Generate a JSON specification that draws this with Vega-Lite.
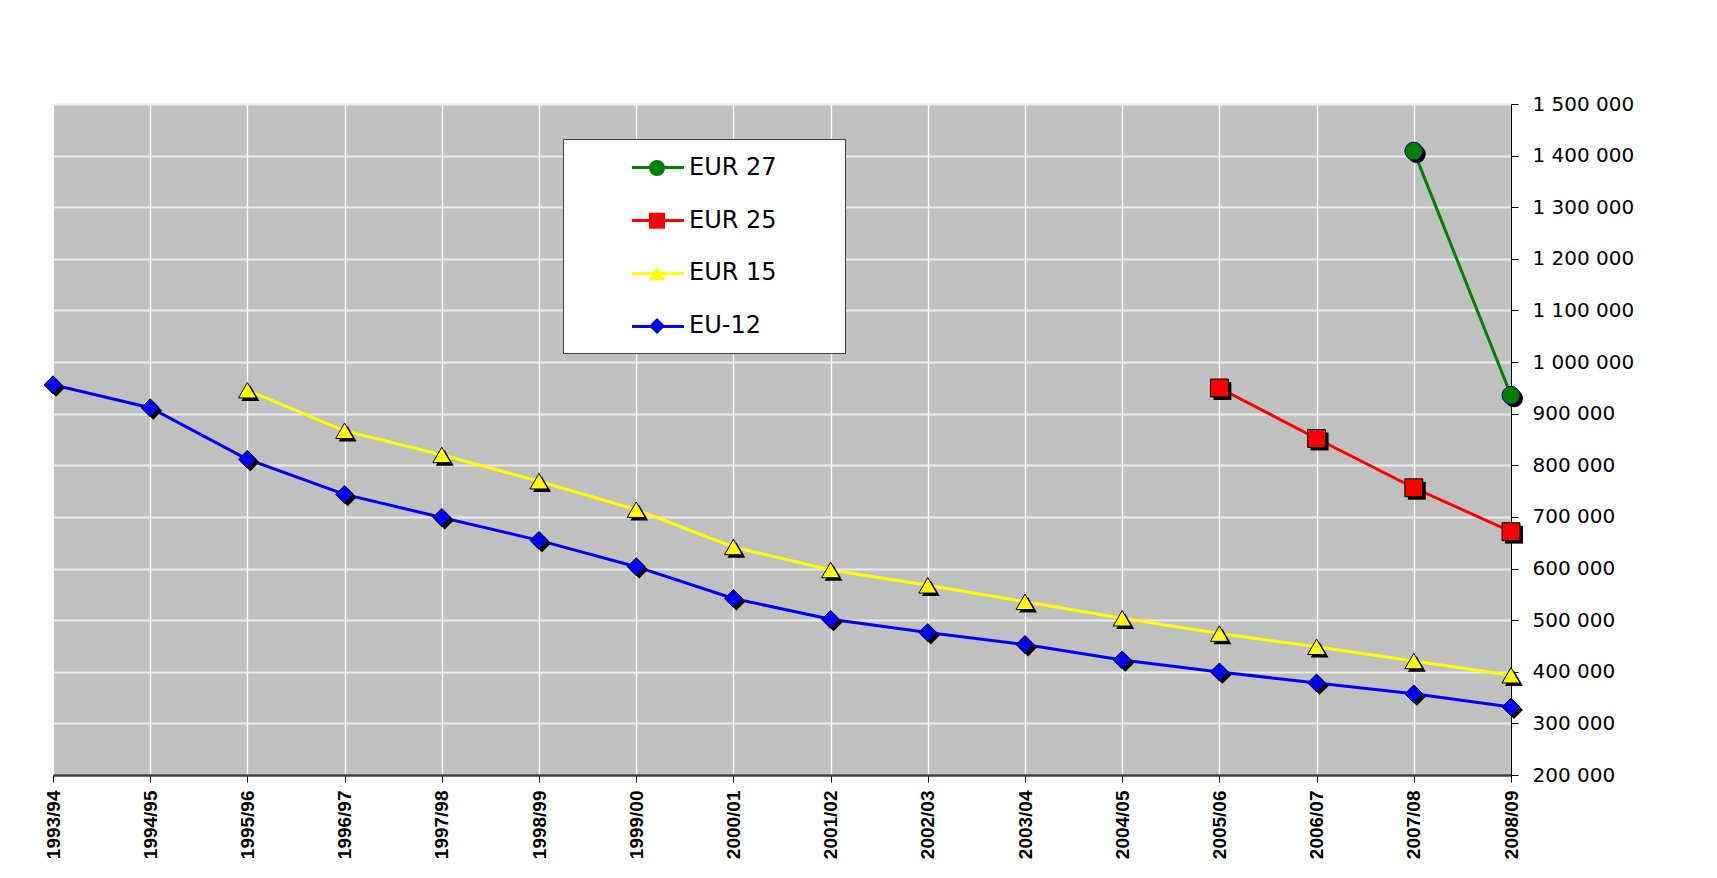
{
  "$schema": "https://vega.github.io/schema/vega-lite/v6.json",
  "width": 1458,
  "height": 671,
  "autosize": {"type": "none"},
  "padding": {"left": 53, "top": 104, "right": 206, "bottom": 103},
  "background": "white",
  "config": {"view": {"fill": "#C0C0C0", "stroke": "#808080", "strokeWidth": 1}},
  "data": {"values": [
    {"year": "1993/94", "series": "EU-12", "value": 956000},
    {"year": "1994/95", "series": "EU-12", "value": 911500},
    {"year": "1995/96", "series": "EU-12", "value": 811700},
    {"year": "1996/97", "series": "EU-12", "value": 743700},
    {"year": "1997/98", "series": "EU-12", "value": 699000},
    {"year": "1998/99", "series": "EU-12", "value": 654500},
    {"year": "1999/00", "series": "EU-12", "value": 603600},
    {"year": "2000/01", "series": "EU-12", "value": 542000},
    {"year": "2001/02", "series": "EU-12", "value": 501600},
    {"year": "2002/03", "series": "EU-12", "value": 476100},
    {"year": "2003/04", "series": "EU-12", "value": 452800},
    {"year": "2004/05", "series": "EU-12", "value": 423000},
    {"year": "2005/06", "series": "EU-12", "value": 399700},
    {"year": "2006/07", "series": "EU-12", "value": 378400},
    {"year": "2007/08", "series": "EU-12", "value": 357200},
    {"year": "2008/09", "series": "EU-12", "value": 331700},
    {"year": "1995/96", "series": "EUR 15", "value": 945500},
    {"year": "1996/97", "series": "EUR 15", "value": 866900},
    {"year": "1997/98", "series": "EUR 15", "value": 820200},
    {"year": "1998/99", "series": "EUR 15", "value": 769200},
    {"year": "1999/00", "series": "EUR 15", "value": 714000},
    {"year": "2000/01", "series": "EUR 15", "value": 641800},
    {"year": "2001/02", "series": "EUR 15", "value": 597200},
    {"year": "2002/03", "series": "EUR 15", "value": 567500},
    {"year": "2003/04", "series": "EUR 15", "value": 535600},
    {"year": "2004/05", "series": "EUR 15", "value": 503700},
    {"year": "2005/06", "series": "EUR 15", "value": 474000},
    {"year": "2006/07", "series": "EUR 15", "value": 448500},
    {"year": "2007/08", "series": "EUR 15", "value": 420900},
    {"year": "2008/09", "series": "EUR 15", "value": 393300},
    {"year": "2005/06", "series": "EUR 25", "value": 949800},
    {"year": "2006/07", "series": "EUR 25", "value": 852000},
    {"year": "2007/08", "series": "EUR 25", "value": 756500},
    {"year": "2008/09", "series": "EUR 25", "value": 671400},
    {"year": "2007/08", "series": "EUR 27", "value": 1408800},
    {"year": "2008/09", "series": "EUR 27", "value": 935600}
  ]},
  "encoding": {
    "x": {
      "field": "year", "type": "ordinal",
      "scale": {"type": "point", "padding": 0},
      "axis": {
        "title": null, "labelAngle": -90, "labelFont": "Liberation Sans", "labelFontWeight": "bold",
        "labelFontSize": 19, "labelColor": "black", "labelPadding": 8,
        "tickSize": 7, "tickColor": "black", "tickWidth": 1,
        "domainColor": "#404040", "domainWidth": 2.5,
        "grid": true, "gridColor": "white", "gridWidth": 1.3
      }
    },
    "y": {
      "field": "value", "type": "quantitative",
      "scale": {"domain": [200000, 1500000], "nice": false, "zero": false},
      "axis": {
        "title": null, "orient": "right", "values": [200000,300000,400000,500000,600000,700000,800000,900000,1000000,1100000,1200000,1300000,1400000,1500000],
        "labelExpr": "replace(replace(format(datum.value, ','), ',', ' '), ',', ' ')",
        "labelFont": "DejaVu Sans", "labelFontSize": 20, "labelColor": "black", "labelPadding": 14,
        "tickSize": 7, "tickColor": "black", "tickWidth": 1,
        "domainColor": "black", "domainWidth": 1,
        "grid": true, "gridColor": "#ECECEC", "gridWidth": 2
      }
    }
  },
  "resolve": {
    "scale": {"shape": "independent", "fill": "independent"},
    "legend": {"shape": "independent", "fill": "independent"}
  },
  "layer": [
    {
      "mark": {"type": "line", "strokeWidth": 3},
      "encoding": {
        "color": {
          "field": "series", "type": "nominal",
          "scale": {"domain": ["EUR 27", "EUR 25", "EUR 15", "EU-12"], "range": ["#008000", "#FF0000", "#FFFF00", "#0000FF"]},
          "legend": {
            "orient": "none", "legendX": 510, "legendY": 35, "title": null,
            "symbolType": "stroke", "symbolSize": 2704, "symbolStrokeWidth": 3,
            "labelFontSize": 50, "labelFont": "DejaVu Sans", "labelOffset": 158,
            "labelExpr": "''",
            "fillColor": "white", "strokeColor": "#404040", "padding": 1, "symbolOffset": 66.5, "rowPadding": 0
          }
        }
      }
    },
    {
      "mark": {"type": "point", "filled": true, "color": "black", "opacity": 1, "size": 320, "xOffset": 3, "yOffset": 3},
      "encoding": {
        "shape": {"field": "series", "type": "nominal", "sort": "descending", "scale": {"range": ["circle", "square", "triangle-up", "diamond"]}, "legend": null}
      }
    },
    {
      "mark": {"type": "point", "filled": true, "opacity": 1, "size": 320, "strokeWidth": 1},
      "encoding": {
        "stroke": {"condition": {"test": "datum.series === 'EUR 27'", "value": "#000080"}, "value": "black"},
        "fill": {"field": "series", "type": "nominal", "sort": "descending", "scale": {"range": ["#008000", "#FF0000", "#FFFF00", "#0000FF"]},
          "legend": {
            "orient": "none", "legendX": 510, "legendY": 52, "title": null,
            "symbolSize": 256, "symbolStrokeColor": "black", "symbolStrokeWidth": 1,
            "labelFont": "DejaVu Sans", "labelFontSize": 24, "labelColor": "black", "labelOffset": 20,
            "padding": 0, "symbolOffset": 82, "rowPadding": 28.7
          }
        },
        "shape": {"field": "series", "type": "nominal", "sort": "descending", "scale": {"range": ["circle", "square", "triangle-up", "diamond"]},
          "legend": {
            "orient": "none", "legendX": 510, "legendY": 52, "title": null,
            "symbolSize": 256, "symbolStrokeColor": "black", "symbolStrokeWidth": 1,
            "labelFont": "DejaVu Sans", "labelFontSize": 24, "labelColor": "black", "labelOffset": 20,
            "padding": 0, "symbolOffset": 82, "rowPadding": 28.7
          }
        }
      }
    }
  ]
}
